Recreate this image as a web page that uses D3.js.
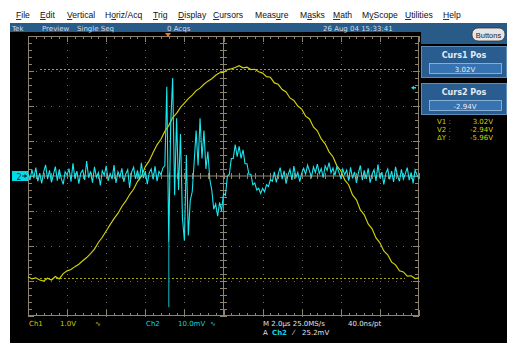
<!DOCTYPE html>
<html><head><meta charset="utf-8">
<script src="https://cdn.jsdelivr.net/npm/d3@7"></script>
<style>
body{margin:0;background:#fff;}
svg{display:block;}
</style>
</head><body>
<svg id="c" width="507" height="343"></svg>
<script>
// ================= DATA =================
const timeRange = [0, 20];            // µs across screen (10 div × 2.0 µs)
const ch1Volts = [
-2.91,-2.97,-2.94,-3.00,-3.03,-2.95,-3.00,-2.90,-2.97,-2.82,
-2.74,-2.70,-2.62,-2.55,-2.45,-2.36,-2.25,-2.12,-1.93,-1.78,
-1.60,-1.42,-1.25,-1.10,-0.90,-0.75,-0.56,-0.41,-0.19,-0.04,
0.24,0.40,0.64,0.86,1.02,1.25,1.41,1.64,1.76,1.93,
2.05,2.18,2.28,2.41,2.48,2.59,2.68,2.75,2.85,2.92,
2.93,3.01,3.03,3.07,3.12,3.06,3.08,3.01,3.02,2.95,
2.91,2.81,2.79,2.63,2.59,2.44,2.37,2.20,2.13,1.97,
1.88,1.68,1.60,1.37,1.26,1.03,0.89,0.66,0.52,0.26,
0.12,-0.14,-0.28,-0.57,-0.71,-1.00,-1.14,-1.40,-1.54,-1.80,
-1.94,-2.17,-2.28,-2.49,-2.57,-2.74,-2.77,-2.89,-2.88,-2.96,
-2.94];
const ch2mV = [
0.5,-1.2,1.8,-0.6,2.4,-1.5,0.8,-2.1,1.1,3.2,
-0.9,1.6,-1.8,0.4,2.7,-1.3,1.9,-0.7,-2.4,1.2,
0.3,2.1,-1.6,3.6,-0.8,1.4,-2.2,0.9,1.7,-1.1,
4.3,-0.5,1.3,-1.9,2.6,-0.4,1.0,-2.7,1.5,0.2,
2.9,-1.4,0.7,-0.9,3.1,-2.0,1.2,-0.3,2.2,-1.7,
0.6,1.8,-3.4,1.1,2.5,-0.8,1.6,-1.2,3.8,-0.6,
1.4,-2.3,0.9,2.0,-1.0,2.8,-1.5,1.3,0.4,2.3,
3.0,25.5,-19,15,28,-5.5,16.5,-4,12,-12,
-18.5,6,-17,-7,-4.5,4,13,3,16.5,5,
13,2,7,-1,-4,-9.5,-8,-11.5,-7.5,-10,
-5,-5.5,0,0.5,5,5,9,5.5,8.5,5,
7.5,3.5,3.5,0.5,0.5,-2.5,-2,-4,-3.5,-5,
-3.5,-4.5,-2.5,-3,-1,-1.5,
1.2,-1.8,0.6,2.4,-0.9,1.5,-2.2,0.3,1.9,-1.1,
2.8,-0.4,1.0,-1.6,0.8,2.2,0.5,3.1,1.4,-0.3,
2.6,1.0,3.4,0.7,2.1,-0.5,2.9,1.6,3.8,0.9,
2.3,0.2,2.7,1.1,-0.6,2.0,0.4,1.7,-1.3,2.5,
-0.7,1.2,-2.0,0.9,3.0,-1.2,1.6,-0.8,2.2,-1.9,
0.5,1.8,-1.4,3.3,-0.6,1.1,-2.4,0.7,2.0,-1.0,
1.4,-1.7,2.6,0.1,-1.5,1.9,-0.9,0.6,2.4,-1.2,
1.0,-2.1,1.7,0.3,-0.8];
const glitchTime = 7.2;               // µs
const glitchRange = [-19, -37.5];     // mV
const ch1VoltsPerDiv = 1.0;
const ch2mVPerDiv = 10.0;
const ch1Position = 0.03;             // div
const cursorVolts = [3.02, -2.94];
const cursorTitles = ["Curs1 Pos", "Curs2 Pos"];
const cursorValues = ["3.02V", "-2.94V"];
const readLabels = ["V1 :", "V2 :", "ΔY :"];
const readValues = ["3.02V", "-2.94V", "-5.96V"];
const trigLevel = 25.2;               // mV
const trigTime = 7.16;                // µs
const menuItems = ["File","Edit","Vertical","Horiz/Acq","Trig","Display","Cursors","Measure","Masks","Math","MyScope","Utilities","Help"];
const menuHot = [0,0,0,1,0,0,0,4,1,0,1,0,0];
const statusItems = ["Tek","Preview","Single Seq","0 Acqs","26 Aug 04 15:33:41"];

// ================= LAYOUT =================
const W = 507, H = 343;
const gx0 = 28, gx1 = 419, gy0 = 36, gy1 = 316;
const menuLeft = [16,40,67,105,153,178,213,255,300,333,362,405,443];
const statusLeft = [12,42,77,167,323];
const FR = "#8c846f";

const svg = d3.select("#c");
const x = d3.scaleLinear().domain(timeRange).range([gx0, gx1]);
const yDiv = d3.scaleLinear().domain([-4, 4]).range([gy1, gy0]);
const xDiv = d3.scaleLinear().domain([0, 10]).range([gx0, gx1]);
const y1 = v => yDiv(v / ch1VoltsPerDiv + ch1Position);
const y2 = v => yDiv(v / ch2mVPerDiv);

// menu bar
svg.append("rect").attr("x",0).attr("y",0).attr("width",W).attr("height",H).attr("fill","#ffffff");
const menu = svg.append("g").attr("font-family","'Liberation Sans',Arial,sans-serif").attr("font-size",8.6).attr("fill","#111");
menuItems.forEach((m,i)=>{
  const t = menu.append("text").attr("x",menuLeft[i]).attr("y",18);
  const h = menuHot[i];
  if (h>0) t.append("tspan").text(m.slice(0,h));
  t.append("tspan").attr("text-decoration","underline").text(m[h]);
  t.append("tspan").text(m.slice(h+1));
});

// black screen
svg.append("rect").attr("x",10).attr("y",23).attr("width",W-10).attr("height",H-23).attr("fill","#000");
// blue title bar
svg.append("rect").attr("x",10).attr("y",23).attr("width",W-10).attr("height",9).attr("fill","#285b88");
svg.append("rect").attr("x",421).attr("y",23).attr("width",86).attr("height",21).attr("fill","#285b88");
const st = svg.append("g").attr("font-family","'DejaVu Sans',sans-serif").attr("font-size",7).attr("fill","#d4dce6");
statusItems.forEach((s,i)=> st.append("text").attr("x",statusLeft[i]).attr("y",30.5).text(s));

// Buttons
svg.append("rect").attr("x",472).attr("y",28).attr("width",33).attr("height",13).attr("rx",6).attr("fill","#e6e6e6").attr("stroke","#333").attr("stroke-width",0.8);
svg.append("text").attr("x",488.5).attr("y",37.5).attr("text-anchor","middle").attr("font-family","'Liberation Sans',Arial,sans-serif").attr("font-size",7.5).attr("fill","#222").text("Buttons");

// cursor boxes
cursorTitles.forEach((t,i)=>{
  const top = 46 + i*37;
  svg.append("rect").attr("x",421.5).attr("y",top+0.5).attr("width",85).attr("height",31).attr("fill","#2a5d8f").attr("stroke","#5d8dbb").attr("stroke-width",1);
  svg.append("text").attr("x",464).attr("y",top+12).attr("text-anchor","middle").attr("font-family","'DejaVu Sans',sans-serif").attr("font-weight","bold").attr("font-size",8).attr("fill","#e4eaf2").text(t);
  svg.append("rect").attr("x",429.5).attr("y",top+17.5).attr("width",72).attr("height",10).attr("fill","#3673b0").attr("stroke","#9cc0e2").attr("stroke-width",0.8);
  svg.append("text").attr("x",465).attr("y",top+25.5).attr("text-anchor","middle").attr("font-family","'DejaVu Sans',sans-serif").attr("font-size",7).attr("fill","#e8eef8").text(cursorValues[i]);
});
const rd = svg.append("g").attr("font-family","'DejaVu Sans',sans-serif").attr("font-size",7).attr("fill","#d2d200");
readLabels.forEach((l,i)=>{
  rd.append("text").attr("x",437).attr("y",124+i*8.2).text(l);
  rd.append("text").attr("x",493).attr("y",124+i*8.2).attr("text-anchor","end").text(readValues[i]);
});

// graticule
const grat = svg.append("g");
d3.range(1,10).filter(k=>k!==5).forEach(k=>{
  d3.range(0,40.01,1).forEach(j=>{
    grat.append("rect").attr("x",Math.round(xDiv(k))).attr("y",Math.round(yDiv(-4+j/5))).attr("width",1).attr("height",1).attr("fill","#6e6e6e");
  });
});
d3.range(-3,4).filter(k=>k!==0).forEach(k=>{
  d3.range(0,50.01,1).forEach(j=>{
    grat.append("rect").attr("x",Math.round(xDiv(j/5))).attr("y",Math.round(yDiv(k))).attr("width",1).attr("height",1).attr("fill","#6e6e6e");
  });
});
grat.append("rect").attr("x",gx0+0.5).attr("y",gy0+0.5).attr("width",gx1-gx0-1).attr("height",gy1-gy0-1).attr("fill","none").attr("stroke",FR).attr("stroke-width",1);
grat.append("line").attr("x1",xDiv(5)).attr("x2",xDiv(5)).attr("y1",gy0).attr("y2",gy1).attr("stroke",FR);
grat.append("line").attr("x1",gx0).attr("x2",gx1).attr("y1",yDiv(0)).attr("y2",yDiv(0)).attr("stroke",FR);
d3.range(0,50.01,1).forEach(j=>{
  const xx = Math.round(xDiv(j/5))+0.5, major = j%5===0;
  grat.append("line").attr("x1",xx).attr("x2",xx).attr("y1",gy1).attr("y2",gy1-(major?6:3)).attr("stroke",FR);
  grat.append("line").attr("x1",xx).attr("x2",xx).attr("y1",gy0).attr("y2",gy0+(major?6:3)).attr("stroke",FR);
  grat.append("line").attr("x1",xx).attr("x2",xx).attr("y1",yDiv(0)-3).attr("y2",yDiv(0)+3).attr("stroke",FR);
});
d3.range(0,40.01,1).forEach(j=>{
  const yy = Math.round(yDiv(-4+j/5))+0.5, major = j%5===0;
  grat.append("line").attr("y1",yy).attr("y2",yy).attr("x1",gx0).attr("x2",gx0+(major?6:4)).attr("stroke",FR);
  grat.append("line").attr("y1",yy).attr("y2",yy).attr("x1",gx1).attr("x2",gx1-(major?6:4)).attr("stroke",FR);
  grat.append("line").attr("y1",yy).attr("y2",yy).attr("x1",xDiv(5)-3.5).attr("x2",xDiv(5)+3.5).attr("stroke",FR);
});

// cursors
cursorVolts.forEach(v=>{
  svg.append("line").attr("x1",40).attr("x2",405).attr("y1",Math.round(y1(v))+0.5).attr("y2",Math.round(y1(v))+0.5)
    .attr("stroke","#a8a800").attr("stroke-width",1.2).attr("stroke-dasharray","2,2");
});

// traces
const t1 = d3.scaleLinear().domain([0, ch1Volts.length-1]).range(timeRange);
const t2 = d3.scaleLinear().domain([0, ch2mV.length-1]).range(timeRange);
svg.append("path").datum(ch1Volts)
  .attr("d", d3.line().x((d,i)=>x(t1(i))).y(d=>y1(d)))
  .attr("fill","none").attr("stroke","#d2d20a").attr("stroke-width",1.15);
svg.append("line").attr("x1",x(glitchTime)).attr("x2",x(glitchTime)).attr("y1",y2(glitchRange[0])).attr("y2",y2(glitchRange[1]))
  .attr("stroke","#0f8a8e").attr("stroke-width",1.4);
svg.append("path").datum(ch2mV)
  .attr("d", d3.line().x((d,i)=>x(t2(i))).y(d=>y2(d)))
  .attr("fill","none").attr("stroke","#1ae6ee").attr("stroke-width",1.1);

// markers
const mk = svg.append("g");
mk.append("rect").attr("x",12).attr("y",y2(0)-5).attr("width",16).attr("height",10).attr("fill","#00dbe6");
mk.append("text").attr("x",16.5).attr("y",y2(0)+3.5).attr("font-family","'DejaVu Sans',sans-serif").attr("font-size",8).attr("fill","#003840").text("2");
mk.append("line").attr("x1",22).attr("x2",27).attr("y1",y2(0)).attr("y2",y2(0)).attr("stroke","#002830").attr("stroke-width",1);
mk.append("path").attr("d",`M27,${y2(0)} l-2.5,-2 v4 z`).attr("fill","#002830");
mk.append("path").attr("d",`M${x(trigTime)-3},33 h6 l-3,4 z`).attr("fill","#f07a1c");
mk.append("path").attr("d",`M${gx1-8},${y2(trigLevel)} l3,-2 v1.2 h2 v1.6 h-2 v1.2 z`).attr("fill","#19e3ec");

// bottom readout
const bt = svg.append("g").attr("font-family","'DejaVu Sans',sans-serif").attr("font-size",7);
const row = (xx,yy,s,c)=>bt.append("text").attr("x",xx).attr("y",yy).attr("fill",c).text(s);
const YL = "#cccc00", CY = "#14d2dc", WH = "#e2e2e2";
row(29,326,"Ch1",YL); row(60,326,"1.0V",YL); row(95,326,"∿",YL);
row(146,326,"Ch2",CY); row(178,326,"10.0mV",CY); row(210,326,"∿",CY);
row(263,326,"M 2.0µs 25.0MS/s",WH); row(348,326,"40.0ns/pt",WH);
row(263,334.5,"A",WH); row(272,334.5,"Ch2",CY).attr("font-weight","bold"); row(293,334.5,"⁄",WH); row(302,334.5,"25.2mV",WH);
</script>
</body></html>
